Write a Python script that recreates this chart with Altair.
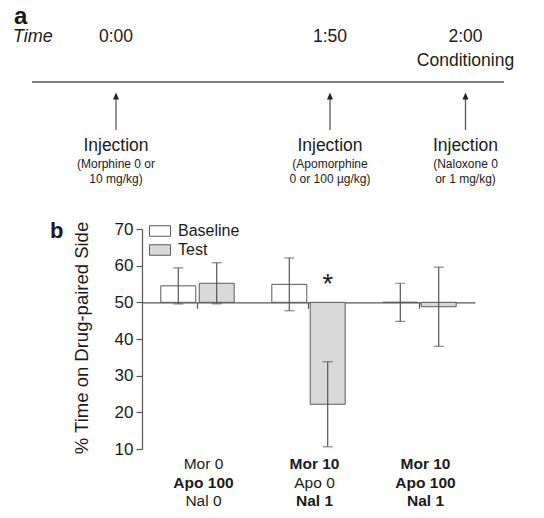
import altair as alt
import pandas as pd

# ---------------- data ----------------
group_keys = ["g1", "g2", "g3"]
group_lines = [["Mor 0", "Apo 100", "Nal 0"],
               ["Mor 10", "Apo 0", "Nal 1"],
               ["Mor 10", "Apo 100", "Nal 1"]]
group_bold = [[False, True, False],
              [True, False, True],
              [True, True, True]]
phases = ["Baseline", "Test"]
baseline_mean = [54.5, 54.9, 50.0]
baseline_sem = [4.9, 7.2, 5.2]
test_mean = [55.2, 22.2, 48.8]
test_sem = [5.6, 11.6, 10.8]
test_significance = ["", "*", ""]

event_clock = ["0:00", "1:50", "2:00"]
event_minutes = [0, 110, 120]
event_title = ["Injection", "Injection", "Injection"]
event_drug = ["(Morphine 0 or", "(Apomorphine", "(Naloxone 0"]
event_dose = ["10 mg/kg)", "0 or 100 \u00b5g/kg)", "or 1 mg/kg)"]
event_note = ["", "", "Conditioning"]

y_ticks = [10, 20, 30, 40, 50, 60, 70]
reference_level = 50

# ---------------- tables ----------------
rows = []
for i, g in enumerate(group_keys):
    for ph, m, s in (("Baseline", baseline_mean[i], baseline_sem[i]),
                     ("Test", test_mean[i], test_sem[i])):
        rows.append({"group": g, "phase": ph, "mean": m, "lo": m - s, "hi": m + s})
bars = pd.DataFrame(rows)

sig = pd.DataFrame({"group": group_keys, "phase": ["Test"] * 3, "sig": test_significance})
sig = sig[sig["sig"] != ""]

lab_rows = []
for g, ls, bs in zip(group_keys, group_lines, group_bold):
    for i, (t, b) in enumerate(zip(ls, bs)):
        lab_rows.append({"group": g, "line": i, "text": t, "bold": b})
labels = pd.DataFrame(lab_rows)

events = pd.DataFrame({
    "minutes": event_minutes,
    "clock": event_clock,
    "title": event_title,
    "detail": [[d1, d2] for d1, d2 in zip(event_drug, event_dose)],
    "note": event_note,
})
one = pd.DataFrame({"k": [0]})

# ---------------- layout ----------------
W, H = 333, 220
YMIN, YMAX = 10, 70
y_ref_px = H * (YMAX - reference_level) / (YMAX - YMIN)
FONT = "Liberation Sans"
INK = "#1a1a1a"
LINE = "#555555"

y_scale = alt.Scale(domain=[YMIN, YMAX], nice=False, zero=False)
y_axis = alt.Axis(values=y_ticks, tickCount=7, labelOverlap=False,
                  title="% Time on Drug-paired Side",
                  titleFontSize=18.5, titleFontWeight="normal", titleColor=INK,
                  titleX=-55, titleY=108.5, titleAngle=270, titleAlign="center",
                  titleBaseline="alphabetic", titleFont=FONT,
                  labelFontSize=17, labelFont=FONT, labelColor=INK, labelPadding=3,
                  tickSize=6, tickColor=LINE, domainColor=LINE, domainWidth=1.2,
                  tickWidth=1.2, grid=False)
x_scale = alt.Scale(domain=group_keys, paddingInner=0, paddingOuter=0)
xo_scale = alt.Scale(domain=phases, paddingInner=0.09, paddingOuter=0.49)
x_enc_axis = alt.X("group:N", scale=x_scale,
                   axis=alt.Axis(orient="bottom", offset=-(H - y_ref_px), labels=False,
                                 title=None, tickSize=6, tickColor=LINE, domainColor=LINE,
                                 domainWidth=1.2, tickWidth=1.2))
x_enc = alt.X("group:N", scale=x_scale, axis=None)
xo_enc = alt.XOffset("phase:N", scale=xo_scale)

time_scale = alt.Scale(type="linear", domain=event_minutes, range=[-26, 188, 323.5],
                       zero=False, nice=False)
tx = alt.X("minutes:Q", scale=time_scale, axis=None)

# ---------------- panel b ----------------
bar_layer = alt.Chart(bars).mark_bar(stroke="#5a5a5a", strokeWidth=1).encode(
    x=x_enc_axis, xOffset=xo_enc,
    y=alt.Y("mean:Q", scale=y_scale, axis=y_axis),
    y2=alt.datum(reference_level),
    fill=alt.Fill("phase:N", scale=alt.Scale(domain=phases, range=["#ffffff", "#d9d9d9"]),
                  legend=alt.Legend(orient="none", legendX=7, legendY=-9, title=None,
                                    symbolType="M-1,-0.5H1V0.5H-1Z", symbolSize=441,
                                    symbolStrokeColor="#5a5a5a", symbolStrokeWidth=1,
                                    labelFontSize=16, labelFont=FONT, labelColor=INK,
                                    labelOffset=7, rowPadding=0, padding=0)),
)
err_layer = alt.Chart(bars).mark_rule(color=LINE, strokeWidth=1.2).encode(
    x=x_enc, xOffset=xo_enc,
    y=alt.Y("lo:Q", scale=y_scale, axis=y_axis), y2="hi:Q",
)
cap_lo = alt.Chart(bars).mark_tick(color=LINE, size=10, thickness=1.2).encode(
    x=x_enc, xOffset=xo_enc, y=alt.Y("lo:Q", scale=y_scale, axis=y_axis))
cap_hi = alt.Chart(bars).mark_tick(color=LINE, size=10, thickness=1.2).encode(
    x=x_enc, xOffset=xo_enc, y=alt.Y("hi:Q", scale=y_scale, axis=y_axis))
star = alt.Chart(sig).mark_text(fontSize=27, font=FONT, color=INK, baseline="alphabetic",
                                dy=-9).encode(
    x=x_enc, xOffset=xo_enc, y=alt.Y(datum=reference_level, scale=y_scale, axis=y_axis),
    text="sig:N")

label_layers = []
for i in range(3):
    for is_bold in (False, True):
        label_layers.append(
            alt.Chart(labels).transform_filter(
                (alt.datum.line == i) & (alt.datum.bold == is_bold)
            ).mark_text(fontSize=15.5, font=FONT, color=INK, align="center",
                        fontWeight="bold" if is_bold else "normal",
                        baseline="alphabetic", dx=6).encode(
                x=x_enc, y=alt.value(240 + 18.5 * i), text="text:N")
        )

b_letter = alt.Chart(one).mark_text(fontSize=22, font=FONT, fontWeight="bold", color=INK,
                                    align="left", baseline="alphabetic").encode(
    x=alt.value(-92), y=alt.value(9), text=alt.value("b"))

# ---------------- panel a ----------------
a_letter = alt.Chart(one).mark_text(fontSize=24, font=FONT, fontWeight="bold", color=INK,
                                    align="left", baseline="alphabetic").encode(
    x=alt.value(-128), y=alt.value(-205), text=alt.value("a"))
time_word = alt.Chart(one).mark_text(fontSize=18, font=FONT, fontStyle="italic", color=INK,
                                     align="left", baseline="alphabetic").encode(
    x=alt.value(-129), y=alt.value(-187), text=alt.value("Time"))
timeline = alt.Chart(one).mark_rule(color=LINE, strokeWidth=1.5).encode(
    x=alt.value(-110), x2=alt.value(362), y=alt.value(-147))
clock = alt.Chart(events).mark_text(fontSize=17.5, font=FONT, color=INK, align="center",
                                    baseline="alphabetic").encode(
    x=tx, y=alt.value(-187), text="clock:N")
note = alt.Chart(events).mark_text(fontSize=17.5, font=FONT, color=INK, align="center",
                                   baseline="alphabetic").encode(
    x=tx, y=alt.value(-163), text="note:N")
shaft = alt.Chart(events).mark_rule(color=LINE, strokeWidth=1.3).encode(
    x=tx, y=alt.value(-132), y2=alt.value(-99))
head = alt.Chart(events).mark_point(shape="M0,-1L0.6,0.4L-0.6,0.4Z", filled=True, size=100,
                                    color="#222222", opacity=1).encode(
    x=tx, y=alt.value(-131.5))
inj = alt.Chart(events).mark_text(fontSize=17.5, font=FONT, color=INK, align="center",
                                  baseline="alphabetic").encode(
    x=tx, y=alt.value(-78), text="title:N")
detail = alt.Chart(events).mark_text(fontSize=12, font=FONT, color=INK, align="center",
                                     baseline="alphabetic", lineHeight=15).encode(
    x=tx, y=alt.value(-61), text="detail")

chart = alt.layer(
    bar_layer, err_layer, cap_lo, cap_hi, star, *label_layers, b_letter,
    a_letter, time_word, timeline, clock, note, shaft, head, inj, detail,
).resolve_scale(x="independent").properties(
    width=W, height=H,
    autosize=alt.AutoSizeParams(type="none"),
    padding={"left": 134, "top": 221, "right": 61, "bottom": 65},
).configure_view(stroke=None)

chart.save("out.html", embed_options={"renderer": "svg", "actions": False})
